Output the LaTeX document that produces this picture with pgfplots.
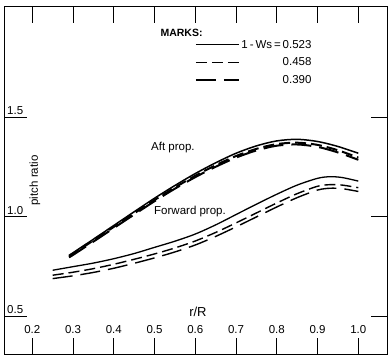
\documentclass[border=0pt]{standalone}
\usepackage{fontspec}
\setmainfont{Liberation Sans}
\usepackage{pgfplots}
\usepackage{pgfplotstable}
\pgfplotsset{compat=1.18}
\pgfplotstableread{
r v
0.25 0.730
0.30 0.748
0.35 0.766
0.40 0.788
0.45 0.814
0.50 0.845
0.55 0.876
0.60 0.912
0.65 0.958
0.70 1.010
0.75 1.062
0.80 1.112
0.85 1.158
0.90 1.192
0.93 1.200
0.96 1.196
1.00 1.178
}\fwdA
\pgfplotstableread{
r v
0.25 0.705
0.30 0.720
0.35 0.738
0.40 0.760
0.45 0.785
0.50 0.812
0.55 0.842
0.60 0.877
0.65 0.920
0.70 0.968
0.75 1.018
0.80 1.068
0.85 1.115
0.90 1.152
0.93 1.160
0.96 1.158
1.00 1.145
}\fwdB
\pgfplotstableread{
r v
0.25 0.688
0.30 0.702
0.35 0.719
0.40 0.740
0.45 0.765
0.50 0.792
0.55 0.822
0.60 0.857
0.65 0.900
0.70 0.948
0.75 0.998
0.80 1.048
0.85 1.095
0.90 1.133
0.93 1.142
0.96 1.140
1.00 1.126
}\fwdC
\pgfplotstableread{
r v
0.29 0.805
0.30 0.818
0.35 0.886
0.40 0.955
0.45 1.024
0.50 1.092
0.55 1.156
0.60 1.216
0.65 1.270
0.70 1.318
0.75 1.355
0.80 1.380
0.85 1.388
0.90 1.377
0.95 1.352
1.00 1.318
}\aftA
\pgfplotstableread{
r v
0.29 0.800
0.30 0.812
0.35 0.880
0.40 0.948
0.45 1.016
0.50 1.083
0.55 1.146
0.60 1.205
0.65 1.258
0.70 1.304
0.75 1.340
0.80 1.364
0.85 1.371
0.90 1.360
0.95 1.333
1.00 1.296
}\aftB
\pgfplotstableread{
r v
0.29 0.795
0.30 0.807
0.35 0.874
0.40 0.942
0.45 1.010
0.50 1.077
0.55 1.140
0.60 1.198
0.65 1.250
0.70 1.296
0.75 1.332
0.80 1.356
0.85 1.362
0.90 1.350
0.95 1.322
1.00 1.285
}\aftC
\newcommand{\ylab}[1]{\hspace*{2pt}\rlap{\raisebox{2.5pt}{#1}}\hspace*{-2pt}\rule[-0.5pt]{22pt}{1pt}}
\begin{document}
\begin{tikzpicture}
\useasboundingbox (-5pt,-3pt) rectangle (385pt,354pt);
\begin{axis}[
  scale only axis, width=382pt, height=347pt,
  at={(0pt,0pt)}, anchor=south west,
  xmin=0.133, xmax=1.0704, ymin=0.309, ymax=2.053,
  axis line style={line width=1pt},
  every tick/.style={black, line width=1pt},
  tick align=inside,
  major tick length=16pt,
  xtick={0.2,0.3,0.4,0.5,0.6,0.7,0.8,0.9,1.0},
  xticklabels={0.2,0.3,0.4,0.5,0.6,0.7,0.8,0.9,1.0},
  xtick pos=both, xticklabel pos=left,
  xticklabel style={anchor=base, yshift=21pt, inner sep=0pt, font=\fontsize{11.5}{13}\selectfont},
  ytick={0.5,1.0,1.5},
  yticklabels={\ylab{0.5},\ylab{1.0},\ylab{1.5}},
  ytick pos=right, yticklabel pos=left,
  yticklabel style={anchor=base west, inner sep=0pt, xshift=0pt, font=\fontsize{11.5}{13}\selectfont},
  xlabel={r/R},
  xlabel style={at={(axis description cs:0.505,0.121)}, anchor=center, font=\fontsize{13}{15}\selectfont},
  ylabel={pitch ratio},
  ylabel style={at={(axis description cs:0.0785,0.50)}, anchor=center, font=\fontsize{11.5}{13}\selectfont},
  legend style={at={(0.497,0.911)}, anchor=north west, draw=none, fill=none, inner sep=0pt,
    row sep=4pt, font=\fontsize{11.5}{13}\selectfont,
    /tikz/every even column/.append style={column sep=8pt}},
  legend cell align=right,
  legend image code/.code={\draw[#1] (0pt,0pt) -- (43pt,0pt);},
]
\addplot[black, line width=1.3pt, smooth] table[x=r,y=v] {\fwdA};
\addlegendentry{1\,-\,Ws\,=\,0.523}
\addplot[black, line width=1.4pt, smooth, dash pattern=on 11pt off 5pt] table[x=r,y=v] {\fwdB};
\addlegendentry{0.458}
\addplot[black, line width=1.4pt, smooth, dash pattern=on 20pt off 8pt] table[x=r,y=v] {\fwdC};
\addlegendentry{0.390}
\addplot[black, line width=2pt, smooth, dash pattern=on 20pt off 8pt, forget plot] table[x=r,y=v] {\aftC};
\addplot[black, line width=2pt, smooth, dash pattern=on 11pt off 5pt, forget plot] table[x=r,y=v] {\aftB};
\addplot[black, line width=1.5pt, smooth, forget plot] table[x=r,y=v] {\aftA};
\node[anchor=west, font=\bfseries\fontsize{10.5}{12}\selectfont] at (axis cs:0.506,1.922) {MARKS:};
\node[anchor=center, font=\fontsize{11.5}{13}\selectfont] at (axis cs:0.545,1.349) {Aft prop.};
\node[anchor=center, font=\fontsize{11.5}{13}\selectfont] at (axis cs:0.587,1.023) {Forward prop.};
\end{axis}
\end{tikzpicture}
\end{document}
